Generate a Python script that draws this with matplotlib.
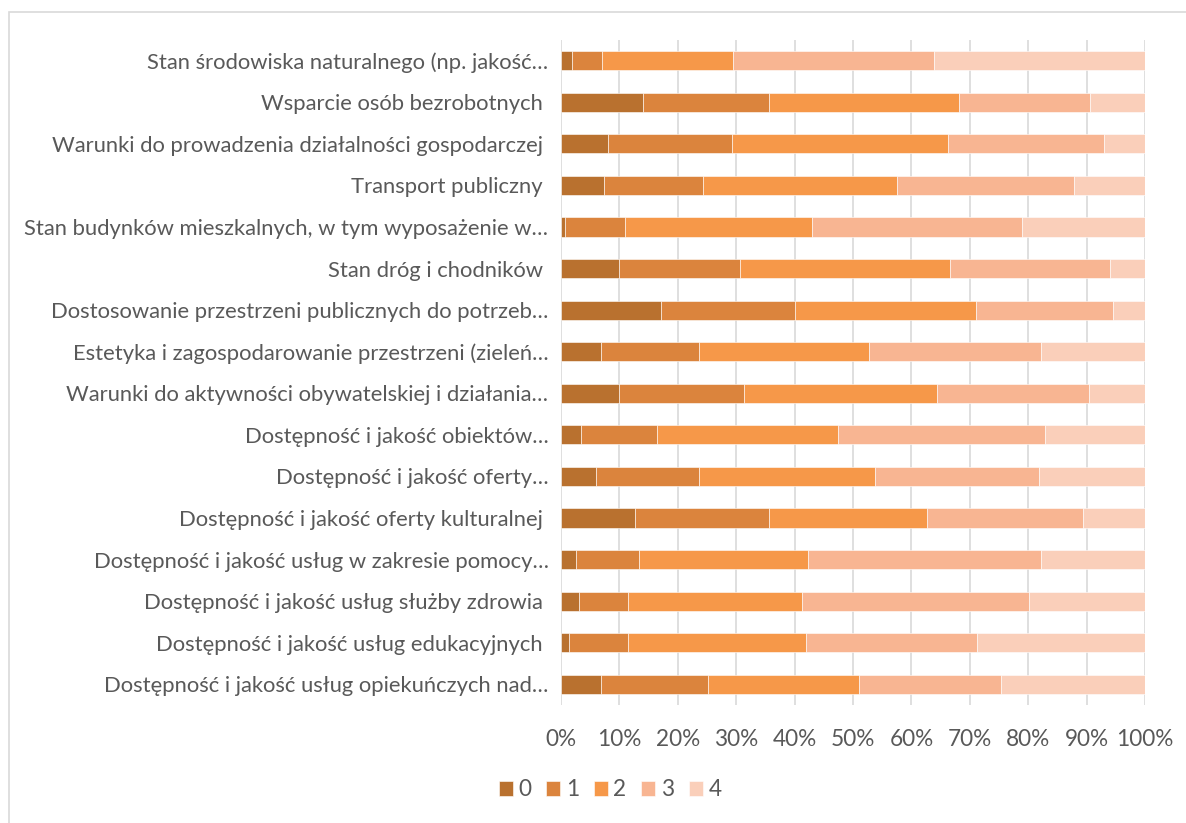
import numpy as np
import matplotlib
matplotlib.use("Agg")
import matplotlib.pyplot as plt
from matplotlib.patches import Rectangle

plt.rcParams['font.family'] = ['Lato', 'DejaVu Sans']

# kategorie od dołu wykresu do góry
kategorie = [
    "Dostępność i jakość usług opiekuńczych nad…",
    "Dostępność i jakość usług edukacyjnych ",
    "Dostępność i jakość usług służby zdrowia ",
    "Dostępność i jakość usług w zakresie pomocy…",
    "Dostępność i jakość oferty kulturalnej ",
    "Dostępność i jakość oferty…",
    "Dostępność i jakość obiektów…",
    "Warunki do aktywności obywatelskiej i działania…",
    "Estetyka i zagospodarowanie przestrzeni (zieleń…",
    "Dostosowanie przestrzeni publicznych do potrzeb…",
    "Stan dróg i chodników ",
    "Stan budynków mieszkalnych, w tym wyposażenie w…",
    "Transport publiczny ",
    "Warunki do prowadzenia działalności gospodarczej ",
    "Wsparcie osób bezrobotnych ",
    "Stan środowiska naturalnego (np. jakość…",
]

# udziały ocen 0-4 (%), w tej samej kolejności co kategorie
ocena_0 = [6.8, 1.4, 3.1, 2.6, 12.6, 6.0, 3.5, 10.0, 6.8, 17.2, 10.0, 0.6, 7.3, 8.1, 14.0, 1.8]
ocena_1 = [18.4, 10.0, 8.3, 10.8, 23.1, 17.6, 13.0, 21.3, 16.8, 22.9, 20.7, 10.3, 17.1, 21.2, 21.7, 5.3]
ocena_2 = [25.9, 30.6, 29.8, 28.9, 26.9, 30.2, 30.9, 33.0, 29.1, 31.0, 35.9, 32.0, 33.1, 36.9, 32.4, 22.4]
ocena_3 = [24.2, 29.2, 39.0, 39.8, 26.7, 28.1, 35.4, 26.0, 29.5, 23.4, 27.3, 36.1, 30.4, 26.7, 22.5, 34.3]
ocena_4 = [24.7, 28.8, 19.8, 17.8, 10.7, 18.2, 17.2, 9.6, 17.8, 5.5, 6.0, 21.0, 12.1, 7.1, 9.4, 36.2]

serie = ["0", "1", "2", "3", "4"]
kolory = ["#B9712F", "#DB843D", "#F69849", "#F8B592", "#FACFBA"]
szary = "#595959"

fig = plt.figure(figsize=(11.86, 8.23), dpi=100)
ax = fig.add_axes([561 / 1186, 1 - 705 / 823, 584 / 1186, 665 / 823])

# ramka obszaru wykresu
fig.patches.append(Rectangle((8.5 / 1186, -0.1), 1.2, 1 - 12 / 823 + 0.1,
                             transform=fig.transFigure, fill=False,
                             edgecolor="#D9D9D9", linewidth=1.2))

y = np.arange(len(kategorie))
dane = np.array([ocena_0, ocena_1, ocena_2, ocena_3, ocena_4])
dane = dane / dane.sum(axis=0) * 100
lewo = np.zeros(len(kategorie))
for nazwa, wart, kol in zip(serie, dane, kolory):
    ax.barh(y, wart, left=lewo, height=0.46, color=kol, label=nazwa,
            edgecolor="white", linewidth=0.4, zorder=3)
    lewo += wart

ax.set_xlim(0, 100)
ax.set_ylim(-0.5, len(kategorie) - 0.5)
ax.set_xticks(np.arange(0, 101, 10))
ax.set_xticklabels([f"{v}%" for v in range(0, 101, 10)])
ax.set_yticks(y)
ax.set_yticklabels(kategorie)
ax.grid(axis="x", color="#D9D9D9", linewidth=1.2, zorder=0)
ax.tick_params(axis="both", length=0, labelsize=16.3, colors=szary)
ax.tick_params(axis="x", pad=17)
ax.tick_params(axis="y", pad=9, labelsize=15.8)
for s in ax.spines.values():
    s.set_visible(False)

fig.legend(loc="center", bbox_to_anchor=(610 / 1186, 1 - 790 / 823), ncol=5,
           frameon=False, fontsize=16.3, labelcolor=szary, handlelength=0.62,
           handleheight=0.62, handletextpad=0.25, columnspacing=0.65)

fig.savefig("out.png", dpi=100, facecolor="white")
